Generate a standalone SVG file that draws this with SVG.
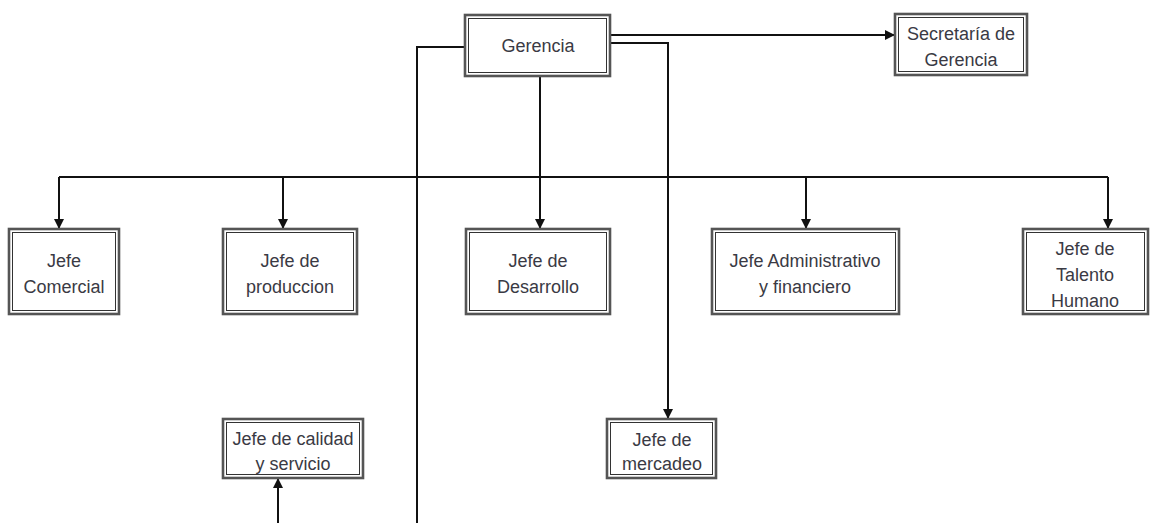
<svg xmlns="http://www.w3.org/2000/svg" width="1151" height="523" viewBox="0 0 1151 523">
<style>
.o{fill:#fff;stroke:#555;stroke-width:2.6}
.i{fill:none;stroke:#333;stroke-width:1}
.t{font-family:"Liberation Sans",Arial,sans-serif;font-size:18px;fill:#3a3a44;text-anchor:middle}
.c{fill:none;stroke:#111;stroke-width:2}
</style>
<defs>
<marker id="a" viewBox="0 0 10 10" refX="10" refY="5" markerWidth="5" markerHeight="5" orient="auto" markerUnits="strokeWidth">
<path d="M0,0 L10,5 L0,10 z" fill="#111"/>
</marker>
</defs>
<rect width="1151" height="523" fill="#fff"/>
<g id="connectors">
<path class="c" d="M465,47 H417 V523"/>
<path class="c" d="M610,35 H895" marker-end="url(#a)"/>
<path class="c" d="M610,43 H668 V419" marker-end="url(#a)"/>
<path class="c" d="M540,76 V229" marker-end="url(#a)"/>
<path class="c" d="M59,177 H1108"/>
<path class="c" d="M59,177 V229" marker-end="url(#a)"/>
<path class="c" d="M283,177 V229" marker-end="url(#a)"/>
<path class="c" d="M806,177 V229" marker-end="url(#a)"/>
<path class="c" d="M1108,177 V229" marker-end="url(#a)"/>
<path class="c" d="M278,523 V478" marker-end="url(#a)"/>
</g>
<g id="gerencia">
<rect class="o" x="465" y="15" width="145" height="61"/>
<rect class="i" x="468.5" y="18.5" width="138" height="54"/>
<text class="t" x="538" y="52">Gerencia</text>
</g>
<g id="secretaria">
<rect class="o" x="895" y="14" width="132" height="61"/>
<rect class="i" x="898.5" y="17.5" width="125" height="54"/>
<text class="t" x="961" y="40">Secretaría de</text>
<text class="t" x="961" y="66">Gerencia</text>
</g>
<g id="comercial">
<rect class="o" x="9" y="229" width="110" height="85"/>
<rect class="i" x="12.5" y="232.5" width="103" height="78"/>
<text class="t" x="64" y="267">Jefe</text>
<text class="t" x="64" y="293">Comercial</text>
</g>
<g id="produccion">
<rect class="o" x="223" y="229" width="134" height="85"/>
<rect class="i" x="226.5" y="232.5" width="127" height="78"/>
<text class="t" x="290" y="267">Jefe de</text>
<text class="t" x="290" y="293">produccion</text>
</g>
<g id="desarrollo">
<rect class="o" x="466" y="229" width="144" height="85"/>
<rect class="i" x="469.5" y="232.5" width="137" height="78"/>
<text class="t" x="538" y="267">Jefe de</text>
<text class="t" x="538" y="293">Desarrollo</text>
</g>
<g id="administrativo">
<rect class="o" x="712" y="229" width="187" height="85"/>
<rect class="i" x="715.5" y="232.5" width="180" height="78"/>
<text class="t" x="805" y="267">Jefe Administrativo</text>
<text class="t" x="805" y="293">y financiero</text>
</g>
<g id="talento">
<rect class="o" x="1023" y="229" width="125" height="85"/>
<rect class="i" x="1026.5" y="232.5" width="118" height="78"/>
<text class="t" x="1085" y="255">Jefe de</text>
<text class="t" x="1085" y="281">Talento</text>
<text class="t" x="1085" y="307">Humano</text>
</g>
<g id="calidad">
<rect class="o" x="223" y="419" width="140" height="59"/>
<rect class="i" x="226.5" y="422.5" width="133" height="52"/>
<text class="t" x="293" y="445">Jefe de calidad</text>
<text class="t" x="293" y="470">y servicio</text>
</g>
<g id="mercadeo">
<rect class="o" x="607" y="419" width="109" height="59"/>
<rect class="i" x="610.5" y="422.5" width="102" height="52"/>
<text class="t" x="662" y="446">Jefe de</text>
<text class="t" x="662" y="470">mercadeo</text>
</g>
</svg>
